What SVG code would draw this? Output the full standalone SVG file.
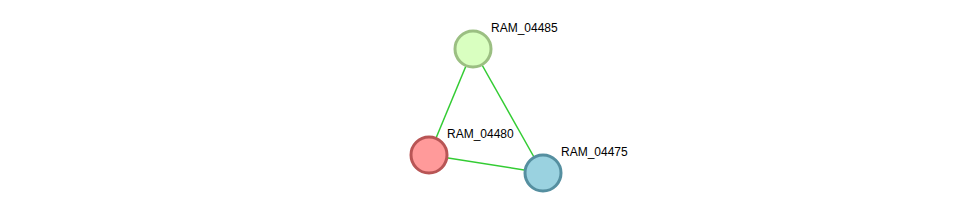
<svg xmlns="http://www.w3.org/2000/svg" width="976" height="219" viewBox="0 0 976 219">
<style>
.edge{stroke:#33cc33;stroke-width:1.5;fill:none}
.node{stroke-width:3}
.lbl{font-family:"Liberation Sans",Arial,sans-serif;font-size:12px;fill:#000}
</style>
<rect width="976" height="219" fill="#fff"/>
<g id="edges">
<line class="edge" x1="473" y1="49" x2="429" y2="155"/>
<line class="edge" x1="473" y1="49" x2="543" y2="173"/>
<line class="edge" x1="429" y1="155" x2="543" y2="173"/>
</g>
<g id="RAM_04485">
<circle class="node" cx="473" cy="49" r="18" fill="#d9ffc0" stroke="#9bbf82"/>
<text class="lbl" x="491" y="32">RAM_04485</text>
</g>
<g id="RAM_04480">
<circle class="node" cx="429" cy="155" r="18" fill="#ff9a9a" stroke="#b85555"/>
<text class="lbl" x="447" y="138">RAM_04480</text>
</g>
<g id="RAM_04475">
<circle class="node" cx="543" cy="173" r="18" fill="#9ad2e0" stroke="#558fa0"/>
<text class="lbl" x="561" y="156">RAM_04475</text>
</g>
</svg>
